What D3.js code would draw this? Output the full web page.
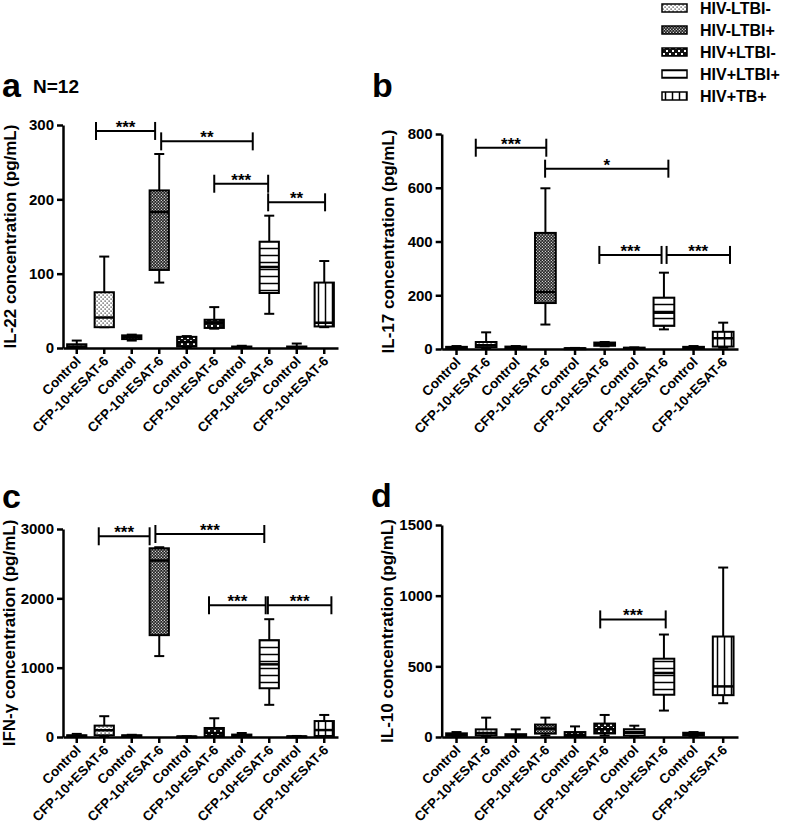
<!DOCTYPE html>
<meta charset="utf-8">
<style>
  body { margin: 0; background: #fff; }
  svg { display: block; font-family: "Liberation Sans", Arial, sans-serif; font-weight: bold; }
  .axis path, .axis line { stroke: #000; stroke-width: 2.5px; }
  .axis text { font-size: 15px; font-weight: bold; fill: #000; font-family: "Liberation Sans", Arial, sans-serif; }
</style>
<body>
<script src="https://d3js.org/d3.v7.min.js"></script>
<script>
// categories on the x axis (pairs belong to one group)
var categories = ["Control", "CFP-10+ESAT-6", "Control", "CFP-10+ESAT-6", "Control",
                  "CFP-10+ESAT-6", "Control", "CFP-10+ESAT-6", "Control", "CFP-10+ESAT-6"];
var groups = ["HIV-LTBI-", "HIV-LTBI+", "HIV+LTBI-", "HIV+LTBI+", "HIV+TB+"];

// box stats per category: [min, q1, median, q3, max]
var il22 = [[0, 0.5, 2, 5, 10], [28, 28, 41, 75, 123], [10, 12, 15, 17, 18], [88, 105, 183, 212, 261],
            [1, 2, 8, 15, 16], [26, 27, 34, 38, 55], [0, 0.5, 1, 2, 3], [46, 74, 109, 143, 178],
            [0, 0.5, 1, 2, 6], [28, 29, 34, 88, 117]];
var il17 = [[1, 3, 5, 8, 11], [2, 7, 14, 26, 62], [1, 3, 6, 9, 11], [91, 171, 212, 432, 598],
            [0, 1, 2, 3, 4], [10, 12, 18, 24, 26], [0, 2, 3, 5, 6], [73, 86, 135, 191, 284],
            [1, 3, 5, 8, 11], [5, 9, 40, 64, 98]];
var ifng = [[2, 5, 15, 25, 45], [10, 25, 97, 164, 300], [2, 5, 15, 25, 32], [1167, 1469, 2545, 2722, 2737],
            [0, 2, 5, 8, 10], [5, 10, 58, 130, 270], [2, 8, 20, 35, 58], [464, 703, 1048, 1397, 1699],
            [0, 2, 6, 10, 15], [5, 15, 100, 230, 318]];
var il10 = [[3, 8, 18, 26, 35], [5, 12, 28, 54, 137], [0, 3, 10, 20, 54], [10, 24, 59, 88, 137],
            [0, 5, 15, 35, 75], [10, 25, 55, 95, 156], [5, 10, 30, 55, 80], [187, 299, 453, 554, 725],
            [5, 10, 20, 30, 35], [239, 296, 358, 711, 1199]];

// significance brackets: [from index, to index, value, label]
var il22Sig = [[0.70, 2.85, 292, "***"], [3.07, 6.40, 278, "**"], [5.0, 6.96, 221, "***"], [6.96, 9.03, 196, "**"]];
var il17Sig = [[0.65, 3.03, 749, "***"], [2.99, 7.15, 671, "*"], [4.82, 6.92, 350, "***"], [7.09, 9.23, 350, "***"]];
var ifngSig = [[0.80, 2.65, 2895, "***"], [2.86, 6.82, 2928, "***"], [4.81, 6.87, 1900, "***"], [6.95, 9.26, 1900, "***"]];
var il10Sig = [[4.85, 7.06, 832, "***"]];

var il22Ticks = [0, 100, 200, 300],
    il17Ticks = [0, 200, 400, 600, 800],
    ifngTicks = [0, 1000, 2000, 3000],
    il10Ticks = [0, 500, 1000, 1500];

var svg = d3.select("body").append("svg")
  .attr("width", 788)
  .attr("height", 840);

var defs = svg.append("defs");

// fill patterns for the five groups
function makePattern(id, w, h) {
  return defs.append("pattern").attr("id", id)
    .attr("patternUnits", "userSpaceOnUse")
    .attr("width", w).attr("height", h);
}
var p0 = makePattern("pat0", 4, 4);
p0.append("rect").attr("width", 4).attr("height", 4).attr("fill", "#fff");
p0.append("rect").attr("x", 0.5).attr("y", 0.5).attr("width", 1.2).attr("height", 1.2).attr("fill", "#222");
p0.append("rect").attr("x", 2.5).attr("y", 2.5).attr("width", 1.2).attr("height", 1.2).attr("fill", "#222");

var p1 = makePattern("pat1", 3, 3);
p1.append("rect").attr("width", 3).attr("height", 3).attr("fill", "#222");
p1.append("rect").attr("x", 0.3).attr("y", 0.3).attr("width", 1.1).attr("height", 1.1).attr("fill", "#fff");
p1.append("rect").attr("x", 1.8).attr("y", 1.8).attr("width", 1.1).attr("height", 1.1).attr("fill", "#fff");

var p2 = makePattern("pat2", 6, 6);
p2.append("rect").attr("width", 6).attr("height", 6).attr("fill", "#111");
p2.append("rect").attr("x", 1).attr("y", 1).attr("width", 2).attr("height", 2).attr("fill", "#fff");
p2.append("rect").attr("x", 4).attr("y", 4).attr("width", 2).attr("height", 2).attr("fill", "#fff");

var p3 = makePattern("pat3", 7, 7);
p3.append("rect").attr("width", 7).attr("height", 7).attr("fill", "#fff");
p3.append("line").attr("x1", 0).attr("x2", 7).attr("y1", 3.5).attr("y2", 3.5).attr("stroke", "#000").attr("stroke-width", 1.5);

var p4 = makePattern("pat4", 7, 7);
p4.append("rect").attr("width", 7).attr("height", 7).attr("fill", "#fff");
p4.append("line").attr("y1", 0).attr("y2", 7).attr("x1", 3.5).attr("x2", 3.5).attr("stroke", "#000").attr("stroke-width", 1.5);

var panels = [
  {letter: "a", data: il22, sig: il22Sig, ticks: il22Ticks, title: "IL-22 concentration (pg/mL)",
   x0: 63, x1: 338, yB: 348, yT: 125, lx: 2, ly: 97, tx: 16},
  {letter: "b", data: il17, sig: il17Sig, ticks: il17Ticks, title: "IL-17 concentration (pg/mL)",
   x0: 441.7, x1: 738, yB: 349, yT: 134, lx: 372, ly: 97, tx: 394},
  {letter: "c", data: ifng, sig: ifngSig, ticks: ifngTicks, title: "IFN-\u03b3 concentration (pg/mL)",
   x0: 63, x1: 338, yB: 737, yT: 529, lx: 2, ly: 508, tx: 15},
  {letter: "d", data: il10, sig: il10Sig, ticks: il10Ticks, title: "IL-10 concentration (pg/mL)",
   x0: 441.7, x1: 738, yB: 737, yT: 525, lx: 371, ly: 507, tx: 393}
];

panels.forEach(drawPanel);

function drawPanel(p) {
  var x = d3.scaleBand().domain(d3.range(categories.length)).range([p.x0, p.x1]);
  var y = d3.scaleLinear().domain([0, d3.max(p.ticks)]).range([p.yB, p.yT]);
  var bw = x.bandwidth();
  var pos = d3.scaleLinear().domain([0, categories.length - 1])
    .range([x(0) + bw / 2, x(categories.length - 1) + bw / 2]);
  var boxW = bw * 0.7, capW = 10;

  var g = svg.append("g");

  var box = g.selectAll(".box").data(p.data).enter().append("g").attr("class", "box");

  // whiskers
  box.append("line")
    .attr("x1", function(d, i){ return pos(i); })
    .attr("x2", function(d, i){ return pos(i); })
    .attr("y1", function(d){ return y(d[0]); })
    .attr("y2", function(d){ return y(d[4]); })
    .attr("stroke", "#000").attr("stroke-width", 2);
  box.append("line")
    .attr("x1", function(d, i){ return pos(i) - capW / 2; })
    .attr("x2", function(d, i){ return pos(i) + capW / 2; })
    .attr("y1", function(d){ return y(d[4]); })
    .attr("y2", function(d){ return y(d[4]); })
    .attr("stroke", "#000").attr("stroke-width", 2);
  box.append("line")
    .attr("x1", function(d, i){ return pos(i) - capW / 2; })
    .attr("x2", function(d, i){ return pos(i) + capW / 2; })
    .attr("y1", function(d){ return y(d[0]); })
    .attr("y2", function(d){ return y(d[0]); })
    .attr("stroke", "#000").attr("stroke-width", 2);

  // boxes
  box.append("rect")
    .attr("x", function(d, i){ return pos(i) - boxW / 2; })
    .attr("width", boxW)
    .attr("y", function(d){ return y(d[3]); })
    .attr("height", function(d){ return Math.max(1, y(d[1]) - y(d[3])); })
    .attr("fill", function(d, i){ return "url(#pat" + Math.floor(i / 2) + ")"; })
    .attr("stroke", "#000").attr("stroke-width", 2);

  // medians
  box.append("line")
    .attr("x1", function(d, i){ return pos(i) - boxW / 2; })
    .attr("x2", function(d, i){ return pos(i) + boxW / 2; })
    .attr("y1", function(d){ return y(d[2]); })
    .attr("y2", function(d){ return y(d[2]); })
    .attr("stroke", "#000").attr("stroke-width", 2.5);

  // significance brackets
  var sig = g.selectAll(".sig").data(p.sig).enter().append("g").attr("class", "sig");
  sig.append("line")
    .attr("x1", function(d){ return pos(d[0]); })
    .attr("x2", function(d){ return pos(d[1]); })
    .attr("y1", function(d){ return y(d[2]); })
    .attr("y2", function(d){ return y(d[2]); })
    .attr("stroke", "#000").attr("stroke-width", 2);
  [0, 1].forEach(function(k){
    sig.append("line")
      .attr("x1", function(d){ return pos(d[k]); })
      .attr("x2", function(d){ return pos(d[k]); })
      .attr("y1", function(d){ return y(d[2]) - 9; })
      .attr("y2", function(d){ return y(d[2]) + 9; })
      .attr("stroke", "#000").attr("stroke-width", 2);
  });
  sig.append("text")
    .attr("x", function(d){ return (pos(d[0]) + pos(d[1])) / 2; })
    .attr("y", function(d){ return y(d[2]) + 2; })
    .attr("text-anchor", "middle")
    .style("font-size", "17px")
    .text(function(d){ return d[3]; });

  // axes
  g.append("g").attr("class", "axis")
    .attr("transform", "translate(" + p.x0 + ",0)")
    .call(d3.axisLeft(y).tickValues(p.ticks).tickFormat(d3.format("d"))
      .tickSize(6).tickSizeOuter(0).tickPadding(3));

  var xa = g.append("g").attr("class", "axis")
    .attr("transform", "translate(0," + p.yB + ")")
    .call(d3.axisBottom(x).tickSize(6).tickSizeOuter(0)
      .tickFormat(function(i){ return categories[i]; }));
  xa.selectAll("text")
    .attr("x", 0).attr("y", 0).attr("dy", 0)
    .attr("text-anchor", "end")
    .attr("transform", "translate(5,14) rotate(-45)")
    .style("font-size", "13.5px");

  // y title
  g.append("text")
    .attr("transform", "translate(" + p.tx + "," + (p.yB + p.yT) / 2 + ") rotate(-90)")
    .attr("text-anchor", "middle")
    .style("font-size", "17px")
    .text(p.title);

  // panel letter
  g.append("text")
    .attr("x", p.lx).attr("y", p.ly)
    .style("font-size", "34px")
    .text(p.letter);
}

svg.append("text").attr("x", 33).attr("y", 93).style("font-size", "19px").text("N=12");

// legend
var legend = svg.append("g").selectAll("g").data(groups).enter().append("g")
  .attr("transform", function(d, i){ return "translate(662," + (8 + i * 22) + ")"; });
legend.append("rect")
  .attr("x", 0).attr("y", -4).attr("width", 25).attr("height", 8)
  .attr("fill", function(d, i){ return "url(#pat" + i + ")"; })
  .attr("stroke", "#000").attr("stroke-width", 1.5);
legend.append("text")
  .attr("x", 38).attr("y", 0).attr("dy", "0.36em")
  .style("font-size", "16px")
  .text(function(d){ return d; });
</script>
